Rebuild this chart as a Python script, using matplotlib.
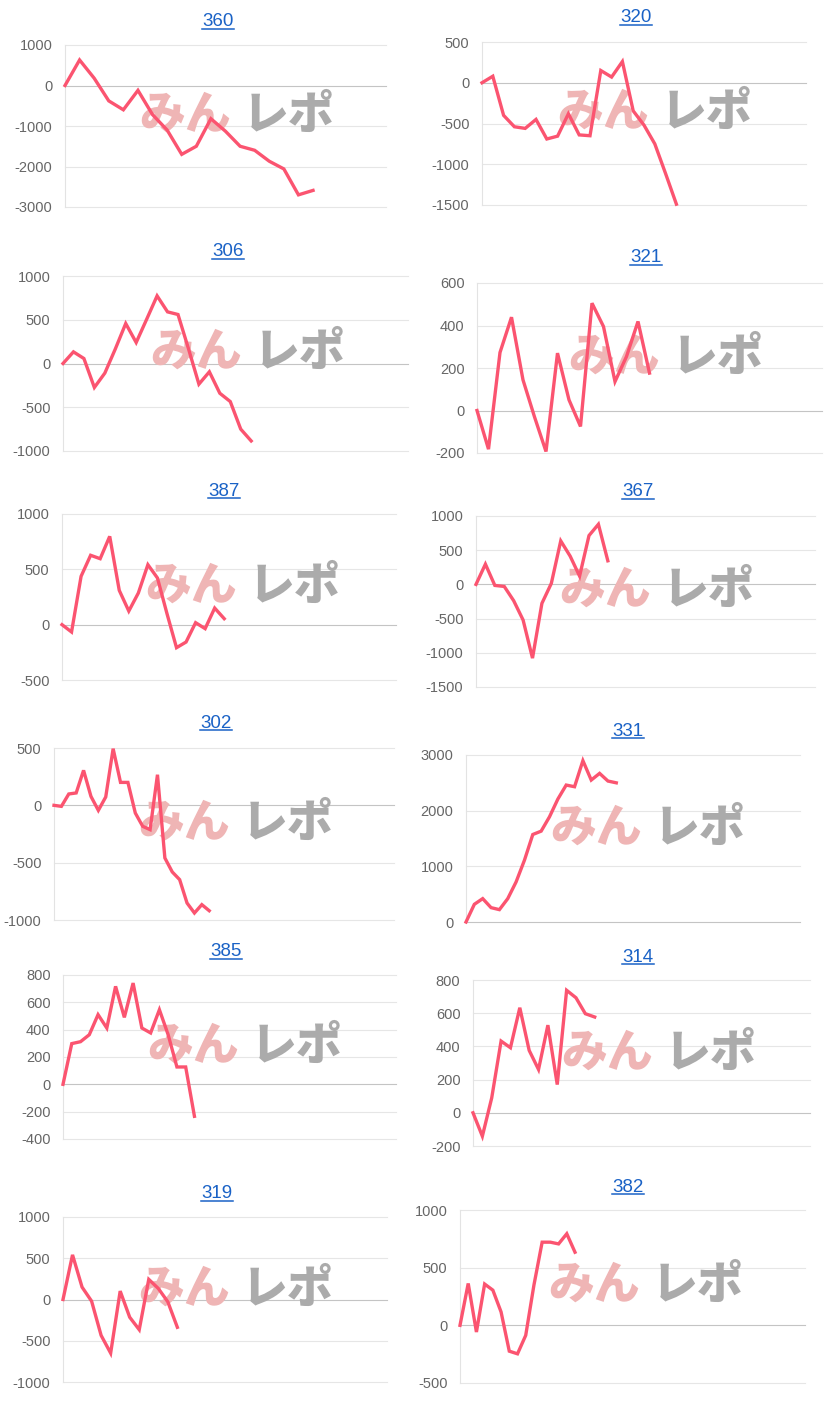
import numpy as np
import matplotlib.pyplot as plt
from matplotlib.lines import Line2D

plt.rcParams['font.family'] = ['Liberation Sans', 'Noto Sans CJK JP', 'DejaVu Sans']

titles = ['360', '320', '306', '321', '387', '367', '302', '331', '385', '314', '319', '382']

s360 = [0, 630, 180, -380, -600, -120, -720, -1100, -1700, -1500, -820, -1130,
        -1500, -1600, -1870, -2060, -2700, -2590]
s320 = [0, 80, -400, -540, -560, -450, -690, -655, -380, -640, -650, 150, 70,
        260, -345, -520, -750, -1115, -1490]
s306 = [0, 133, 57, -274, -110, 165, 457, 240, 505, 773, 590, 560, 170, -236,
        -95, -340, -435, -750, -885]
s321 = [0, -182, 273, 439, 144, -30, -193, 270, 50, -75, 505, 395, 136, 254,
        419, 176]
s387 = [0, -66, 437, 627, 596, 798, 310, 123, 286, 542, 422, 100, -208, -157,
        18, -36, 150, 54]
s367 = [0, 296, -15, -30, -238, -520, -1078, -277, 15, 636, 413, 121, 714,
        879, 345]
s302 = [0, -9, 99, 108, 305, 78, -44, 73, 494, 200, 200, -67, -183, -212, 267,
        -459, -581, -648, -852, -939, -866, -919]
s331 = [0, 318, 420, 258, 222, 420, 720, 1110, 1572, 1632, 1890, 2208, 2460,
        2430, 2898, 2550, 2670, 2532, 2500]
s385 = [0, 298, 312, 363, 510, 412, 717, 490, 741, 412, 376, 546, 363, 127,
        127, -234]
s314 = [0, -141, 90, 432, 392, 633, 376, 261, 528, 170, 738, 693, 597, 577]
s319 = [0, 541, 150, -20, -435, -650, 102, -215, -366, 244, 134, -28, -337]
s382 = [0, 363, -58, 358, 305, 116, -224, -247, -87, 349, 721, 721, 706, 794,
        634]

series = [s360, s320, s306, s321, s387, s367, s302, s331, s385, s314, s319, s382]

# y axis (min, max, step) and number of x slots of each chart
yranges = [(-3000, 1000, 1000), (-1500, 500, 500), (-1000, 1000, 500),
           (-200, 600, 200), (-500, 1000, 500), (-1500, 1000, 500),
           (-1000, 500, 500), (0, 3000, 1000), (-400, 800, 200),
           (-200, 800, 200), (-1000, 1000, 500), (-500, 1000, 500)]
xslots = [22, 30, 33, 30, 35, 36, 46, 40, 38, 36, 34, 42]

# layout in pixels of the screenshot: plot box (left, right, top, bottom)
W, H = 836, 1401
boxes = [(65, 386, 45, 207), (482, 806, 42, 205), (63, 408, 276, 451),
         (477, 822, 283, 453), (62, 396, 514, 680), (476, 815, 516, 687),
         (54, 394, 748, 920), (466, 800, 755, 922), (63, 396, 975, 1139),
         (473, 810, 980, 1146), (63, 387, 1217, 1382), (460, 805, 1210, 1383)]
title_pos = [(218, 22), (636, 18), (228, 252), (646, 258), (224, 491),
             (638, 492), (216, 723), (628, 731), (226, 952), (638, 957),
             (217, 1194), (628, 1187)]
mark_pos = [(239, 115), (657, 112), (250, 352), (668, 357), (245, 586),
            (659, 590), (238, 823), (650, 828), (247, 1046), (661, 1053),
            (238, 1289), (648, 1285)]

RED = '#fb5470'
BLUE = '#1a62c6'

fig = plt.figure(figsize=(W / 100, H / 100), dpi=100)
fig.patch.set_facecolor('white')

title_texts = []
for i, vals in enumerate(series):
    l, r, t, b = boxes[i]
    ax = fig.add_axes([l / W, 1 - b / H, (r - l) / W, (b - t) / H])
    ymin, ymax, step = yranges[i]
    ticks = np.arange(ymin, ymax + step / 2, step)
    for tv in ticks:
        ax.axhline(tv, color='#c4c4c4' if tv == 0 else '#e6e6e6', lw=0.8,
                   clip_on=False, zorder=0)
    ax.plot(np.arange(len(vals)), vals, color=RED, lw=2.4,
            solid_joinstyle='miter', zorder=3, clip_on=False)
    ax.set_xlim(0, xslots[i])
    ax.set_ylim(ymin, ymax)
    ax.set_yticks(ticks)
    ax.set_yticklabels([f'{int(v)}' for v in ticks])
    ax.set_xticks([])
    ax.tick_params(axis='y', length=0, pad=9, labelsize=10.5,
                   labelcolor='#666666')
    for sp in ['top', 'right', 'bottom']:
        ax.spines[sp].set_visible(False)
    ax.spines['left'].set_color('#e3e3e3')
    ax.spines['left'].set_linewidth(0.8)
    ax.patch.set_alpha(0)

    # watermark logo
    mx, my = mark_pos[i]
    ax.text((mx - 54) / W, 1 - my / H, 'みん', transform=fig.transFigure,
            ha='center', va='center', fontsize=33, fontweight='heavy',
            color='#efb5b5', zorder=1, family=['Noto Sans CJK JP'])
    ax.text((mx + 50) / W, 1 - my / H, 'レポ', transform=fig.transFigure,
            ha='center', va='center', fontsize=33, fontweight='heavy',
            color='#ababab', zorder=1, family=['Noto Sans CJK JP'])

    tx, ty = title_pos[i]
    title_texts.append(fig.text(tx / W, 1 - ty / H, titles[i], ha='center',
                                va='center', fontsize=13.5, color=BLUE))

# underline the titles like links
fig.canvas.draw()
renderer = fig.canvas.get_renderer()
for tt in title_texts:
    bb = tt.get_window_extent(renderer)
    y = bb.y0 + 2
    fig.add_artist(Line2D([bb.x0 / W, bb.x1 / W], [y / H, y / H],
                          transform=fig.transFigure, color=BLUE, lw=1.1))

fig.savefig('out.png', dpi=100)
